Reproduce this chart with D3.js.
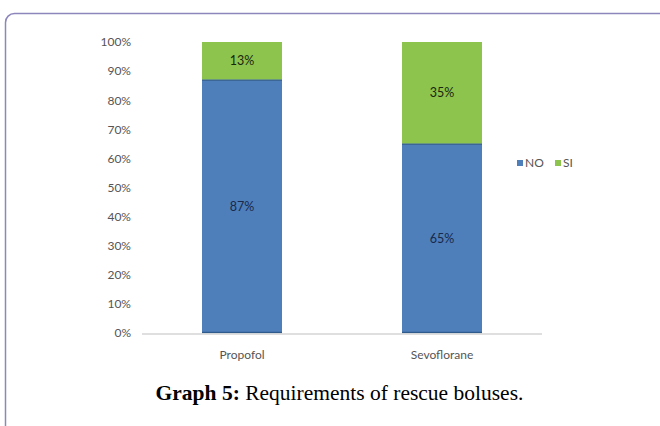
<!DOCTYPE html>
<html>
<head>
<meta charset="utf-8">
<script src="https://cdn.jsdelivr.net/npm/d3@7"></script>
<style>
  html, body { margin: 0; padding: 0; background: #fff; }
  svg { display: block; }
</style>
</head>
<body>
<svg id="chart" width="660" height="426"></svg>
<script>
// Rescue bolus requirement by anaesthetic group (stacked to 100%)
const groups = ["Propofol", "Sevoflorane"];
const noValues = [87, 65];
const siValues = [13, 35];
const seriesNames = ["NO", "SI"];
const yTicks = [0, 10, 20, 30, 40, 50, 60, 70, 80, 90, 100];

const colors = { NO: "#4f7fbb", SI: "#8dc44e" };
const svg = d3.select("#chart");

// Panel frame
svg.append("rect")
  .attr("x", 5.5).attr("y", 13.5)
  .attr("width", 700).attr("height", 460)
  .attr("rx", 9).attr("ry", 9)
  .attr("fill", "none")
  .attr("stroke", "#8c86bd")
  .attr("stroke-width", 1.5);

const x = d3.scaleBand().domain(groups).range([142, 542]).paddingInner(0.6).paddingOuter(0.3);
const y = d3.scaleLinear().domain([0, 100]).range([333, 42]);

const rows = groups.map((g, i) => ({ group: g, NO: noValues[i], SI: siValues[i] }));
const stacked = d3.stack().keys(seriesNames)(rows);

// Y axis labels (no axis line)
const yAxis = svg.append("g")
  .attr("transform", "translate(131,0)")
  .call(d3.axisLeft(y).tickValues(yTicks).tickFormat(d => d + "%").tickSize(0).tickPadding(0));
yAxis.select(".domain").remove();
yAxis.selectAll("text")
  .attr("fill", "#555")
  .style("font-family", "Lato, 'Open Sans', sans-serif")
  .style("font-size", "12px");

// Bars
stacked.forEach(layer => {
  svg.append("g").selectAll("rect")
    .data(layer)
    .join("rect")
    .attr("x", d => x(d.data.group))
    .attr("y", d => y(d[1]))
    .attr("width", x.bandwidth())
    .attr("height", d => y(d[0]) - y(d[1]))
    .attr("fill", colors[layer.key]);
});

// Thin dark edges at the foot of each bar and at the segment join
svg.append("g").selectAll("line")
  .data(rows)
  .join("line")
  .attr("x1", d => x(d.group)).attr("x2", d => x(d.group) + x.bandwidth())
  .attr("y1", d => y(d.NO) + 0.5).attr("y2", d => y(d.NO) + 0.5)
  .attr("stroke", "#3b6696").attr("stroke-width", 1.5);
svg.append("g").selectAll("line")
  .data(rows)
  .join("line")
  .attr("x1", d => x(d.group)).attr("x2", d => x(d.group) + x.bandwidth())
  .attr("y1", y(0) - 0.5).attr("y2", y(0) - 0.5)
  .attr("stroke", "#2f5a8c").attr("stroke-width", 1.5);

// Baseline
svg.append("line")
  .attr("x1", 142).attr("x2", 542)
  .attr("y1", y(0) + 1).attr("y2", y(0) + 1)
  .attr("stroke", "#d4d4d4").attr("stroke-width", 1.5);

// Value labels
stacked.forEach(layer => {
  svg.append("g").selectAll("text")
    .data(layer)
    .join("text")
    .attr("x", d => x(d.data.group) + x.bandwidth() / 2)
    .attr("y", d => (y(d[0]) + y(d[1])) / 2 + 4.5)
    .attr("text-anchor", "middle")
    .attr("fill", layer.key === "NO" ? "#18294a" : "#1a260e")
    .style("font-family", "Lato, 'Open Sans', sans-serif")
    .style("font-size", "12.5px")
    .text(d => (d[1] - d[0]) + "%");
});

// Category labels
svg.append("g").selectAll("text")
  .data(groups)
  .join("text")
  .attr("x", d => x(d) + x.bandwidth() / 2)
  .attr("y", 359)
  .attr("text-anchor", "middle")
  .attr("fill", "#555")
  .style("font-family", "Lato, 'Open Sans', sans-serif")
  .style("font-size", "12px")
  .text(d => d);

// Legend
const legend = svg.append("g").attr("transform", "translate(517,160)");
const legendX = [0, 38];
seriesNames.forEach((s, i) => {
  const g = legend.append("g").attr("transform", `translate(${legendX[i]},0)`);
  g.append("rect").attr("width", 6).attr("height", 6).attr("fill", colors[s]);
  g.append("text").attr("x", 8).attr("y", 6.5)
    .attr("fill", "#555")
    .style("font-family", "Lato, 'Open Sans', sans-serif")
    .style("font-size", "12px")
    .text(s);
});

// Caption
const cap = svg.append("text")
  .attr("x", 339.5).attr("y", 400)
  .attr("text-anchor", "middle")
  .attr("fill", "#000")
  .style("font-family", "'Liberation Serif', 'Times New Roman', serif")
  .style("font-size", "21.5px");
cap.append("tspan").attr("font-weight", "bold").text("Graph 5:");
cap.append("tspan").text(" Requirements of rescue boluses.");
</script>
</body>
</html>
